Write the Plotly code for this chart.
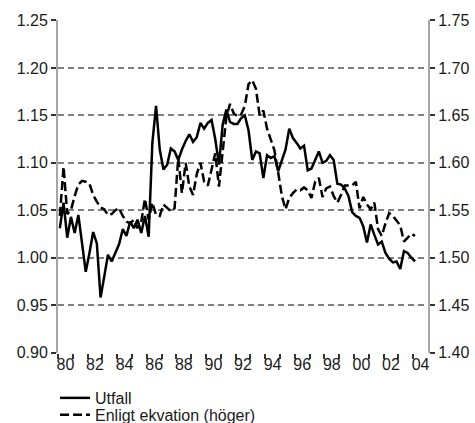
import plotly.graph_objects as go

# quarterly observations, 1980Q1 .. 2004Q1
start_year = 1980
n_quarters = 97

utfall = [
    1.031, 1.058, 1.021, 1.043, 1.026, 1.045, 1.015, 0.985, 1.005, 1.027,
    1.015, 0.958, 0.980, 1.003, 0.996, 1.006, 1.014, 1.030, 1.023, 1.038,
    1.031, 1.040, 1.026, 1.044, 1.022,
    1.121, 1.160, 1.114, 1.093, 1.098, 1.115, 1.112, 1.103, 1.114, 1.123,
    1.130, 1.122, 1.127, 1.142, 1.136, 1.142, 1.145, 1.125, 1.098, 1.140,
    1.156, 1.143, 1.141, 1.141, 1.147,
    1.150, 1.134, 1.103, 1.112, 1.110, 1.084, 1.108, 1.105, 1.107, 1.091,
    1.102, 1.114, 1.136, 1.126, 1.121, 1.115, 1.118, 1.092, 1.094, 1.104,
    1.112, 1.100, 1.102, 1.108, 1.103, 1.078, 1.077, 1.073, 1.065, 1.048,
    1.044, 1.042, 1.033, 1.016, 1.035, 1.024, 1.014, 1.017, 1.005, 0.999,
    0.995, 0.996, 0.988, 1.007, 1.005, 1.000, 0.996,
]

ekvation = [
    1.544, 1.596, 1.546, 1.550, 1.565, 1.577, 1.581, 1.580, 1.578, 1.566,
    1.559, 1.553, 1.551, 1.545, 1.546, 1.550, 1.552, 1.544, 1.538, 1.536,
    1.540, 1.531, 1.538, 1.562, 1.540,
    1.558, 1.545, 1.544, 1.556, 1.552, 1.549, 1.552, 1.605, 1.568, 1.600,
    1.575, 1.566, 1.588, 1.600, 1.580, 1.576, 1.593, 1.610, 1.575, 1.615,
    1.648, 1.662, 1.652, 1.649, 1.651,
    1.660, 1.683, 1.687, 1.678, 1.650, 1.655, 1.636, 1.624, 1.613, 1.590,
    1.565, 1.551, 1.563, 1.568, 1.572, 1.571, 1.574, 1.571, 1.563, 1.580,
    1.584, 1.564, 1.573, 1.575, 1.565, 1.558, 1.566, 1.576, 1.576, 1.576,
    1.580, 1.552, 1.564, 1.556, 1.551, 1.558, 1.530, 1.523, 1.536, 1.547,
    1.544, 1.539, 1.534, 1.517, 1.521, 1.525, 1.523,
]

year_labels = ["80", "82", "84", "86", "88", "90", "92", "94", "96", "98",
               "00", "02", "04"]

x = [start_year + 0.125 + i * 0.25 for i in range(n_quarters)]

font = dict(family="Liberation Sans, Arial, sans-serif", size=16, color="#1a1a1a")
tick_col = "#333333"
axis_col = "#a6a6a6"
grid_col = "#808080"

fig = go.Figure()
fig.add_trace(go.Scatter(
    x=x, y=utfall, name="Utfall", mode="lines", legend="legend",
    line=dict(color="black", width=2.5),
))
fig.add_trace(go.Scatter(
    x=x, y=ekvation, name="Enligt ekvation (höger)", mode="lines",
    yaxis="y2", legend="legend2",
    line=dict(color="black", width=2.5, dash="9px,4px"),
))

fig.update_layout(
    width=475, height=423,
    margin=dict(l=58, r=47, t=20, b=70, autoexpand=False),
    paper_bgcolor="white", plot_bgcolor="white",
    font=font,
    showlegend=True,
    legend=dict(x=-0.008, y=-0.084, xanchor="left", yanchor="top",
                bgcolor="rgba(0,0,0,0)", font=font),
    legend2=dict(x=-0.008, y=-0.135, xanchor="left", yanchor="top",
                 bgcolor="rgba(0,0,0,0)", font=font),
    xaxis=dict(
        range=[1980, 2005],
        tickmode="array",
        tickvals=[1980.5 + 2 * k for k in range(len(year_labels))],
        ticktext=year_labels,
        ticks="",
        showgrid=False, zeroline=False, showline=False,
        minor=dict(tickmode="array", tickvals=list(range(1980, 2005)),
                   ticks="outside", ticklen=5, tickwidth=1.5,
                   tickcolor=tick_col, showgrid=False),
    ),
    yaxis=dict(
        range=[0.8995, 1.2505],
        tickmode="array", tickvals=[0.90, 0.95, 1.00, 1.05, 1.10, 1.15, 1.20, 1.25],
        tickformat=".2f",
        showgrid=True, gridcolor=grid_col, gridwidth=1.5, griddash="6px,4px",
        zeroline=False,
        showline=True, linecolor=axis_col, linewidth=2,
        ticks="outside", ticklen=5, tickwidth=1.5, tickcolor=tick_col,
    ),
    yaxis2=dict(
        range=[1.3995, 1.7505],
        tickmode="array", tickvals=[1.40, 1.45, 1.50, 1.55, 1.60, 1.65, 1.70, 1.75],
        tickformat=".2f",
        overlaying="y", side="right",
        showgrid=False, zeroline=False,
        showline=True, linecolor=axis_col, linewidth=2,
        ticks="outside", ticklen=5, tickwidth=1.5, tickcolor=tick_col,
    ),
)

# drop the browser's default 8px body margin so the figure sits at the corner
fig.write_html("out.html", config={"displayModeBar": False},
               post_script="document.body.style.margin = '0';")
